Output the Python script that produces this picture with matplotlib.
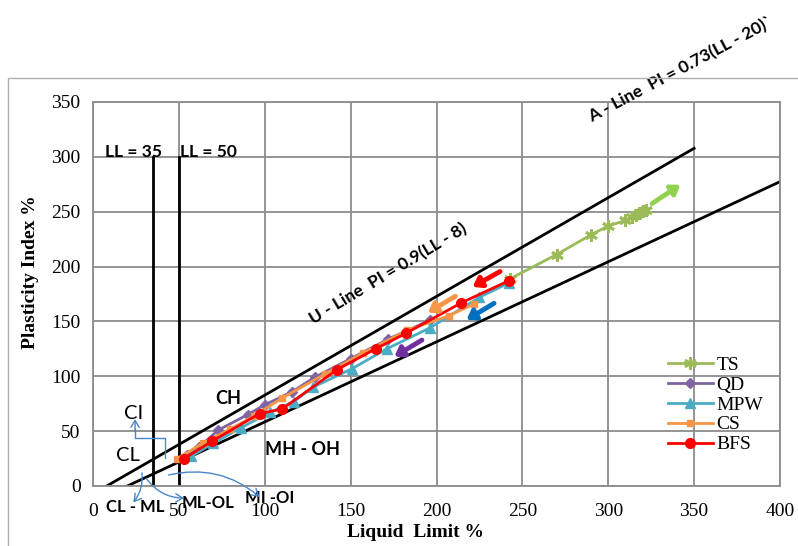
import matplotlib
matplotlib.use("Agg")
import matplotlib.pyplot as plt
from matplotlib.patches import Rectangle

# data
ts_ll = [243, 270, 290, 300, 310, 314, 316, 318, 320, 322]
ts_pi = [189, 211, 229, 237, 242, 245, 247, 249, 251, 252]
qd_ll = [55, 62, 73, 90, 100, 116, 129, 150, 172, 196]
qd_pi = [28, 36, 51, 65, 74, 86, 99, 116, 134, 151]
mpw_ll = [57, 70, 86, 103, 117, 128, 151, 171, 196, 225, 242]
mpw_pi = [27, 39, 53, 67, 77, 90, 107, 125, 144, 172, 185]
cs_ll = [49, 64, 80, 94, 110, 135, 157, 183, 207, 222]
cs_pi = [25, 39, 52, 64, 80, 102, 121, 142, 155, 166]
bfs_ll = [53, 69.5, 97, 110, 142, 164.5, 182, 214.5, 242]
bfs_pi = [25, 41, 66, 70, 106, 125, 139, 167, 187]

u_ll = [8, 350]
a_ll = [20, 400]
x_ticks = [0, 50, 100, 150, 200, 250, 300, 350, 400]
y_ticks = [0, 50, 100, 150, 200, 250, 300, 350]

SANS = ["Lato", "DejaVu Sans"]
SERIF = ["Liberation Serif", "DejaVu Serif"]
GRID = "#8c8c8c"
NOTE = "#4a86c8"

fig = plt.figure(figsize=(7.98, 5.46), dpi=100)
fig.patches.append(Rectangle((8 / 798, -0.2), 1.3, 1.2 - 78 / 546,
                             transform=fig.transFigure, fill=False,
                             ec="#b0b0b0", lw=1))
ax = fig.add_axes([93 / 798, 1 - 486 / 546, (780 - 93) / 798, (486 - 102) / 546])

ax.set_xlim(0, 400)
ax.set_ylim(0, 350)
ax.set_xticks(x_ticks)
ax.set_yticks(y_ticks)
ax.grid(True, color=GRID, lw=1.3)
ax.set_axisbelow(True)
for s in ax.spines.values():
    s.set_color(GRID)
    s.set_linewidth(1.3)
ax.tick_params(length=0, pad=9, labelsize=14)
for lab in ax.get_xticklabels() + ax.get_yticklabels():
    lab.set_family(SERIF)
ax.tick_params(axis="x", pad=12)

ax.set_xlabel("Liquid  Limit %", fontsize=14, fontweight="bold", family=SERIF)
ax.set_ylabel("Plasticity Index %", fontsize=14, fontweight="bold", family=SERIF)
ax.xaxis.set_label_coords(0.469, -0.098)
ax.yaxis.set_label_coords(-0.079, 0.557)

# U-line, A-line, LL limits
ax.plot(u_ll, [0.9 * (v - 8) for v in u_ll], color="black", lw=2)
ax.plot(a_ll, [0.73 * (v - 20) for v in a_ll], color="black", lw=2)
ax.plot([35, 35], [0, 300], color="black", lw=2)
ax.plot([50, 50], [0, 300], color="black", lw=2)

# series
ax.plot(ts_ll, ts_pi, color="#9bbb59", lw=2, marker=(6, 2, 0), ms=9, mew=2, label="TS")
ax.plot(qd_ll, qd_pi, color="#8064a2", lw=2, marker="D", ms=5, label="QD")
ax.plot(mpw_ll, mpw_pi, color="#4bacc6", lw=2, marker="^", ms=7, label="MPW")
ax.plot(cs_ll, cs_pi, color="#f79646", lw=2, marker="s", ms=5, label="CS")
ax.plot(bfs_ll, bfs_pi, color="#ff0000", lw=2, marker="o", ms=7, label="BFS")

# direction arrows
arrows = [
    ((237, 195.5), (221, 181.5), "#ff0000"),
    ((211, 173), (195, 158), "#f79646"),
    ((233.5, 166.5), (217.5, 151.5), "#0070c0"),
    ((191.5, 133), (175.5, 118), "#7030a0"),
    ((325.5, 257.5), (342, 274.5), "#92d050"),
]
for start, end, c in arrows:
    ax.annotate("", xy=end, xytext=start,
                arrowprops=dict(arrowstyle="-|>,head_length=0.5,head_width=0.35",
                                lw=3.5, color=c, shrinkA=0, shrinkB=0))

# zone labels
ax.text(7, 304, "LL = 35", family=SANS, fontweight="bold", fontsize=12.5, ha="left", va="center")
ax.text(50.8, 304, "LL = 50", family=SANS, fontweight="bold", fontsize=12.5, ha="left", va="center")
ax.text(78.5, 80, "CH", family=SANS, fontweight="bold", fontsize=13, ha="center", va="center")
ax.text(122, 33, "MH - OH", family=SANS, fontweight="bold", fontsize=13, ha="center", va="center")
ax.text(172, 193, "U - Line  PI = 0.9(LL - 8)", family=SANS, fontweight="bold", fontsize=12.5,
        ha="center", va="center", rotation=31)
ax.text(342, 380, "A - Line  PI = 0.73(LL - 20)`", family=SANS, fontweight="bold", fontsize=12.5,
        ha="center", va="center", rotation=28, clip_on=False)
ax.text(23.5, 66.5, "CI", family=SANS, fontsize=14.5, ha="center", va="center")
ax.text(20.5, 28, "CL", family=SANS, fontsize=14.5, ha="center", va="center")
ax.text(24.5, -19, "CL - ML", family=SANS, fontweight="bold", fontsize=12, ha="center",
        va="center", clip_on=False)
ax.text(67, -15.5, "ML-OL", family=SANS, fontweight="bold", fontsize=12, ha="center",
        va="center", clip_on=False)
ax.text(88.5, -11, "MI -OI", family=SANS, fontweight="bold", fontsize=12, ha="left",
        va="center", clip_on=False)

# thin pointer arrows
ax.plot([42, 42, 24.5, 24.5], [25.5, 44, 44, 52], color=NOTE, lw=1, clip_on=False)
note_arrows = [
    ((24.5, 50), (24.5, 61), "arc3,rad=0"),
    ((28.5, 12), (23.5, -15), "arc3,rad=-0.2"),
    ((31, 7), (53, -11), "arc3,rad=0.25"),
    ((44, 10), (97, -10), "arc3,rad=-0.25"),
]
for start, end, cs in note_arrows:
    ax.annotate("", xy=end, xytext=start, annotation_clip=False,
                arrowprops=dict(arrowstyle="->,head_length=0.5,head_width=0.3",
                                lw=1, color=NOTE, connectionstyle=cs,
                                shrinkA=0, shrinkB=0))

leg = ax.legend(loc="upper left", bbox_to_anchor=(668 / 798, 1 - 356 / 546),
                bbox_transform=fig.transFigure, frameon=False, borderpad=0,
                borderaxespad=0, handlelength=2.3, handletextpad=0.2,
                labelspacing=0.12, prop={"family": SERIF, "size": 14})

fig.savefig("out.png", dpi=100)
